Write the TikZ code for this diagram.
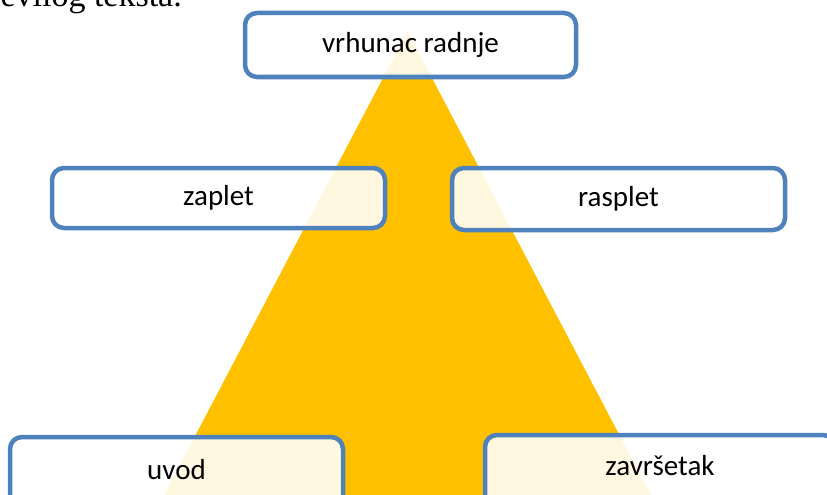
\documentclass[tikz,border=0pt]{standalone}
\usepackage{fontspec}
\setmainfont{Carlito}
\newfontfamily\serifhead{Liberation Serif}
\definecolor{boxblue}{HTML}{4F81BD}
\definecolor{pyr}{HTML}{FFC000}
\begin{document}
\begin{tikzpicture}[x=1pt,y=-1pt,
  part/.style={draw=boxblue, line width=4.5pt, rounded corners=12pt,
    fill=white, fill opacity=0.88, text opacity=1, inner sep=0pt,
    font=\fontsize{29}{33}\selectfont, text=black}]
\useasboundingbox (0,0) rectangle (827,495);
\clip (0,0) rectangle (827,495);
\fill[pyr] (407.5,31.4) -- (664,520) -- (151,520) -- cycle;
\node[anchor=base east, inner sep=0pt, font=\serifhead\fontsize{34}{38}\selectfont] (head) at (182,7) {zevilog teksta.};
\node[part, minimum width=331pt, minimum height=64pt] (top) at (410.5,45) {vrhunac radnje};
\node[part, minimum width=333pt, minimum height=60pt] (zaplet) at (218.5,198) {zaplet};
\node[part, minimum width=333pt, minimum height=62pt] (rasplet) at (618.5,199) {rasplet};
\node[part, minimum width=333pt, minimum height=80pt, text depth=16pt] (uvod) at (176.5,477) {uvod};
\node[part, minimum width=350pt, minimum height=80pt, text depth=20pt] (zavrsetak) at (660,475) {završetak};
\end{tikzpicture}
\end{document}
